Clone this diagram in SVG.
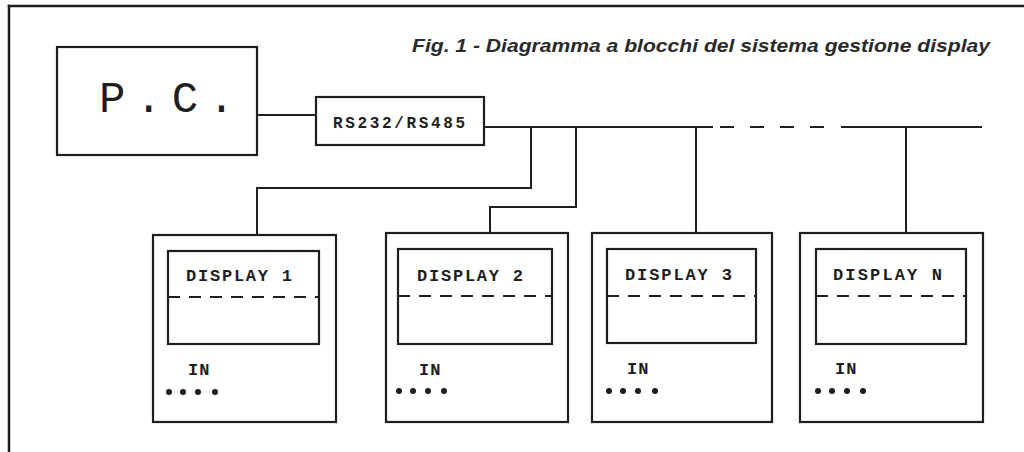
<svg xmlns="http://www.w3.org/2000/svg" width="1024" height="452" viewBox="0 0 1024 452">
<style>
.ln{stroke:#1e1e1e;stroke-width:2;fill:none;stroke-linecap:square}
.bx{stroke:#1e1e1e;stroke-width:2.2;fill:none}
.dash{stroke:#1e1e1e;stroke-width:1.8;stroke-dasharray:12 9;fill:none}
.mono{font-family:"Liberation Mono","DejaVu Sans Mono",monospace;fill:#1e1e1e;font-weight:bold}
.dot{fill:#1e1e1e}
</style>
<rect width="1024" height="452" fill="#ffffff"/>
<g id="frame">
<line class="ln" x1="9" y1="6" x2="1024" y2="6" style="stroke-width:2.5"/>
<line class="ln" x1="9" y1="6" x2="9" y2="452" style="stroke-width:2.5"/>
</g>
<text id="title" x="412" y="52" font-family="Liberation Sans, Arial, sans-serif" font-weight="bold" font-style="italic" font-size="18" fill="#2a2a2a" textLength="578" lengthAdjust="spacingAndGlyphs">Fig. 1 - Diagramma a blocchi del sistema gestione display</text>
<g id="connectors">
<line class="ln" x1="257" y1="115" x2="316" y2="115"/>
<polyline class="ln" points="484,127 712,127"/>
<line x1="720" y1="127" x2="832" y2="127" style="stroke:#1e1e1e;stroke-width:2;stroke-dasharray:14 16"/>
<line class="ln" x1="842" y1="127" x2="981" y2="127"/>
<polyline class="ln" points="531,127 531,188 257,188 257,234"/>
<polyline class="ln" points="576,127 576,207 490,207 490,233"/>
<line class="ln" x1="696" y1="127" x2="696" y2="233"/>
<line class="ln" x1="906" y1="127" x2="906" y2="233"/>
</g>
<g id="pc">
<rect class="bx" x="57" y="47" width="200" height="108"/>
<text x="99" y="112" font-family="Liberation Mono, DejaVu Sans Mono, monospace" font-size="44" fill="#1e1e1e" letter-spacing="10">P.C.</text>
</g>
<g id="converter">
<rect class="bx" x="316" y="97" width="168" height="48"/>
<text class="mono" x="333" y="128" font-size="16" textLength="132" lengthAdjust="spacing">RS232/RS485</text>
</g>
<g id="display1">
<rect class="bx" x="153" y="235" width="183" height="187"/>
<rect class="bx" x="168" y="251" width="151" height="93"/>
<line class="dash" x1="168" y1="297" x2="319" y2="297"/>
<text class="mono" x="186" y="281" font-size="17" textLength="106" lengthAdjust="spacing">DISPLAY 1</text>
<text class="mono" x="188" y="375" font-size="17" letter-spacing="1">IN</text>
<circle class="dot" cx="169" cy="392" r="3"/><circle class="dot" cx="183" cy="392" r="3"/><circle class="dot" cx="198" cy="392" r="3"/><circle class="dot" cx="215" cy="392" r="3"/>
</g>
<g id="display2">
<rect class="bx" x="386" y="233" width="182" height="189"/>
<rect class="bx" x="398" y="249" width="154" height="95"/>
<line class="dash" x1="398" y1="296" x2="552" y2="296"/>
<text class="mono" x="417" y="281" font-size="17" textLength="106" lengthAdjust="spacing">DISPLAY 2</text>
<text class="mono" x="419" y="375" font-size="17" letter-spacing="1">IN</text>
<circle class="dot" cx="399" cy="391" r="3"/><circle class="dot" cx="413" cy="391" r="3"/><circle class="dot" cx="428" cy="391" r="3"/><circle class="dot" cx="444" cy="391" r="3"/>
</g>
<g id="display3">
<rect class="bx" x="592" y="233" width="180" height="189"/>
<rect class="bx" x="607" y="249" width="149" height="94"/>
<line class="dash" x1="607" y1="296" x2="756" y2="296"/>
<text class="mono" x="625" y="280" font-size="17" textLength="107" lengthAdjust="spacing">DISPLAY 3</text>
<text class="mono" x="627" y="374" font-size="17" letter-spacing="1">IN</text>
<circle class="dot" cx="609" cy="391" r="3"/><circle class="dot" cx="623" cy="391" r="3"/><circle class="dot" cx="638" cy="391" r="3"/><circle class="dot" cx="655" cy="391" r="3"/>
</g>
<g id="displayN">
<rect class="bx" x="800" y="233" width="183" height="189"/>
<rect class="bx" x="816" y="249" width="150" height="95"/>
<line class="dash" x1="816" y1="296" x2="966" y2="296"/>
<text class="mono" x="833" y="280" font-size="17" textLength="109" lengthAdjust="spacing">DISPLAY N</text>
<text class="mono" x="835" y="374" font-size="17" letter-spacing="1">IN</text>
<circle class="dot" cx="818" cy="391" r="3"/><circle class="dot" cx="832" cy="391" r="3"/><circle class="dot" cx="847" cy="391" r="3"/><circle class="dot" cx="863" cy="391" r="3"/>
</g>
</svg>
